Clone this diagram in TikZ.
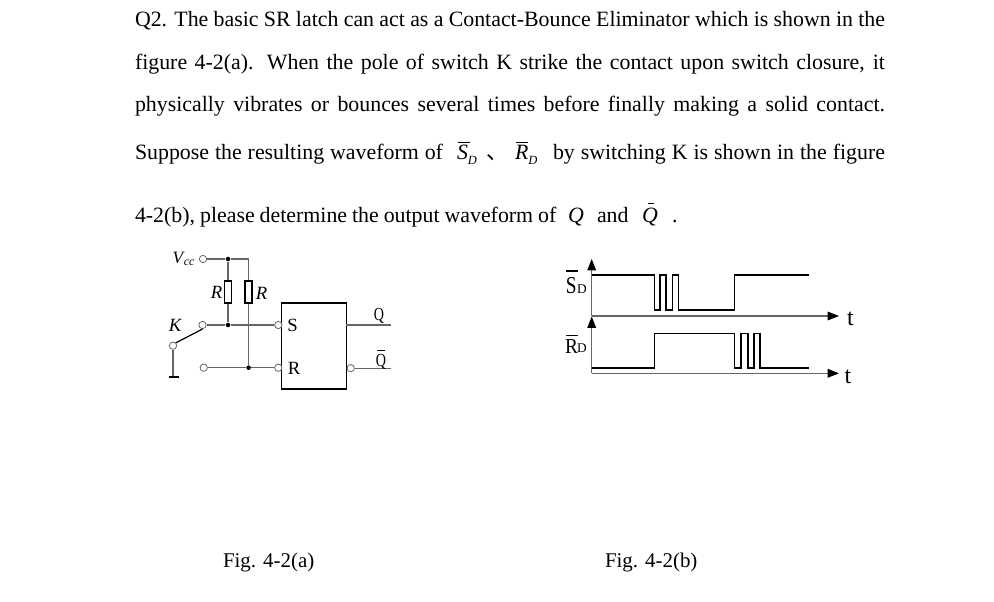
\documentclass[tikz,border=0pt]{standalone}
\usepackage{fontspec}
\setmainfont{Liberation Serif}
\newfontfamily\cjkf{Noto Sans CJK SC}
\usetikzlibrary{arrows.meta}
\newcommand{\bodyfnt}{\fontsize{16.4}{18}\selectfont}
\newcommand{\subfnt}{\fontsize{9.4}{10}\selectfont}
\newcommand{\labfnt}{\fontsize{14}{15}\selectfont}
\newcommand{\ilabfnt}{\fontsize{14}{15}\selectfont}
\newcommand{\wavefnt}{\fontsize{14.5}{16}\selectfont}
\newcommand{\tallq}{\fontsize{11.5}{12}\selectfont\scalebox{0.92}[1.2]{Q}}
\definecolor{wiregray}{gray}{0.4}
\tikzset{
  x=0.75pt,y=-0.75pt,
  txt/.style={anchor=base west,inner sep=0pt,outer sep=0pt,font=\bodyfnt},
  figtxt/.style={anchor=base west,inner sep=0pt,outer sep=0pt,font=\fontsize{15.7}{18}\selectfont},
  lbl/.style={inner sep=0pt,font=\labfnt},
  ilbl/.style={inner sep=0pt,font=\ilabfnt},
  wire/.style={draw=wiregray,line width=0.8pt},
  pin/.style={circle,draw=wiregray,fill=white,line width=0.6pt,minimum size=5.5pt,inner sep=0pt},
  junction/.style={circle,fill=black,minimum size=3.4pt,inner sep=0pt},
  resbox/.style={draw=black,fill=white,line width=1.1pt,minimum width=5.2pt,minimum height=16.5pt,inner sep=0pt},
  block/.style={draw=black,line width=1.2pt,minimum width=48.75pt,minimum height=64.5pt,inner sep=0pt},
  wave/.style={draw=black,line width=1.2pt,line join=miter},
  axisline/.style={draw=wiregray,line width=0.8pt,-{Triangle[length=8.5pt,width=6.5pt,fill=black,color=black]}},
}
\begin{document}
\begin{tikzpicture}
\useasboundingbox[fill=white] (0,0) rectangle (994,602);
% paragraph
\node[txt] (l1) at (135,27) {\makebox[562.5pt][s]{Q2. The basic SR latch can act as a Contact-Bounce Eliminator which is shown in the}};
\node[txt] (l2) at (135,70) {\makebox[562.5pt][s]{figure 4-2(a). When the pole of switch K strike the contact upon switch closure, it}};
\node[txt] (l3) at (135,112) {\makebox[562.5pt][s]{physically vibrates or bounces several times before finally making a solid contact.}};
\node[txt] (l4a) at (135,160) {\makebox[231pt][s]{Suppose the resulting waveform of}};
\node[txt] (sd) at (457,160) {\textit{S}\raisebox{-3.5pt}{\subfnt\textit{D}}};
\node[txt] (dun) at (486,160) {\cjkf 、};
\node[txt] (rd) at (515,160) {\textit{R}\raisebox{-3.5pt}{\subfnt\textit{D}}};
\node[txt] (l4b) at (553,160) {\makebox[249pt][s]{by switching K is shown in the figure}};
\node[txt] (l5a) at (135,222) {\makebox[316pt][s]{4-2(b), please determine the output waveform of}};
\node[txt] (q1) at (568,222) {\textit{Q}};
\node[txt] (and) at (597,222) {and};
\node[txt] (q2) at (642,222) {\textit{Q}};
\node[txt] (dot) at (672,222) {.};
\coordinate (sb1) at (458,142); \coordinate (sb2) at (470,142);
\coordinate (rb1) at (516,142); \coordinate (rb2) at (528,142);
\coordinate (qb1) at (648,203); \coordinate (qb2) at (654,203);
\draw[line width=0.7pt] (sb1) -- (sb2) (rb1) -- (rb2) (qb1) -- (qb2);
\node[figtxt] (figa) at (223,567) {Fig. 4-2(a)};
\node[figtxt] (figb) at (605,567) {Fig. 4-2(b)};
% circuit
\node[block] (latch) at (313.8,346) {};
\node[pin] (vcc) at (203,259) {};
\node[junction] (jv) at (228,259) {};
\coordinate (corner) at (248.6,259);
\node[resbox] (r1) at (228,292) {};
\node[resbox] (r2) at (248.6,292) {};
\node[pin] (kt) at (202.5,325) {};
\node[junction] (js) at (228,325) {};
\node[pin] (sp) at (278.3,325) {};
\node[pin] (kb) at (173,345.7) {};
\coordinate (gnd) at (173,376.7);
\coordinate (g1) at (169,376.7); \coordinate (g2) at (179,376.7);
\node[pin] (rt) at (203.7,367.7) {};
\node[junction] (jr) at (248.6,367.7) {};
\node[pin] (rp) at (278.3,367.7) {};
\coordinate (qe) at (390.5,325);
\coordinate (qs) at (346.2,325);
\node[pin] (qbp) at (350.7,368.2) {};
\coordinate (qbe) at (390.5,368.2);
\draw[wire] (vcc) -- (jv) -- (corner) -- (r2);
\draw[wire] (jv) -- (r1) -- (js);
\draw[wire] (kt) -- (js) -- (sp);
\draw[wire] (r2) -- (jr);
\draw[wire] (rt) -- (jr) -- (rp);
\draw[wire] (qs) -- (qe);
\draw[wire] (qbp) -- (qbe);
\draw[wire] (kb) -- (gnd);
\draw[black,line width=0.9pt] (kb.north east) -- (kt.south);
\draw[black,line width=1.3pt] (g1) -- (g2);
\node[ilbl,font=\fontsize{13}{14}\selectfont] (lvcc) at (183.5,259) {\textit{V\kern0.5pt\raisebox{-1.5pt}{\fontsize{9}{10}\selectfont cc}}};
\node[ilbl] (lr1) at (216.5,292) {\textit{R}};
\node[ilbl] (lr2) at (261.5,293) {\textit{R}};
\node[ilbl] (lk) at (175.5,325) {\textit{K}};
\node[lbl] (ls) at (292.5,325.5) {S};
\node[lbl] (lr) at (294,368) {R};
\node[lbl] (lq) at (379,316) {\tallq};
\node[lbl] (lqb) at (381,361.5) {\tallq};
\coordinate (qo1) at (377,350.5); \coordinate (qo2) at (385,350.5);
\draw[line width=0.6pt] (qo1) -- (qo2);
% waveforms
\coordinate (a1b) at (591.7,316); \coordinate (a1t) at (591.7,259);
\coordinate (a1r) at (839,316);
\coordinate (a2b) at (591.7,373.3); \coordinate (a2t) at (591.7,316.5);
\coordinate (a2r) at (839,373.3);
\draw[axisline] (a1b) -- (a1t);
\draw[axisline] (a1b) -- (a1r);
\draw[axisline] (a2b) -- (a2t);
\draw[axisline] (a2b) -- (a2r);
\coordinate (sw) at (591.7,275);
\coordinate (rw) at (591.7,367.7);
\draw[wave] (sw) -- (654.3,275) -- (654.3,310) -- (660,310) -- (660,275) -- (665.7,275) -- (665.7,310) -- (672.3,310) -- (672.3,275) -- (678.3,275) -- (678.3,310) -- (734.3,310) -- (734.3,275) -- (809,275);
\draw[wave] (rw) -- (654.3,367.7) -- (654.3,333.3) -- (734.3,333.3) -- (734.3,367.7) -- (741,367.7) -- (741,333.3) -- (747.7,333.3) -- (747.7,367.7) -- (754,367.7) -- (754,333.3) -- (759.7,333.3) -- (759.7,367.7) -- (809,367.7);
\node[lbl,font=\wavefnt] (ls2) at (571.3,286) {\scalebox{1}[1.25]{S}};
\node[lbl,font=\fontsize{10}{11}\selectfont] (ld1) at (582,289) {D};
\node[lbl,font=\wavefnt] (lr3) at (571.5,346.5) {\scalebox{1}[1.1]{R}};
\node[lbl,font=\fontsize{10}{11}\selectfont] (ld2) at (582,348.5) {D};
\coordinate (o1a) at (566,271); \coordinate (o1b) at (578,271);
\coordinate (o2a) at (566,335.5); \coordinate (o2b) at (578,335.5);
\draw[line width=0.8pt] (o1a) -- (o1b) (o2a) -- (o2b);
\node[lbl,font=\fontsize{18}{18}\selectfont] (t1) at (850.5,319) {t};
\node[lbl,font=\fontsize{18}{18}\selectfont] (t2) at (848,377) {t};
\end{tikzpicture}
\end{document}
